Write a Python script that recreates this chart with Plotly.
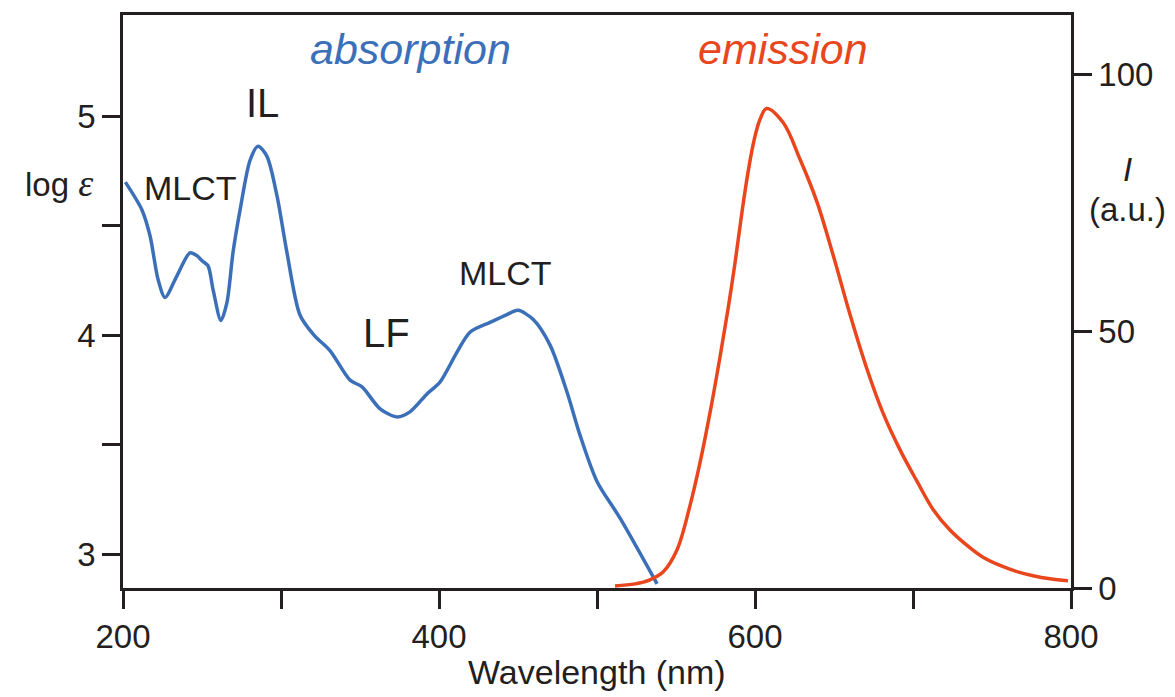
import plotly.graph_objects as go

# ---- data ----
abs_nm = [201.5, 212.0, 217.1, 222.2, 226.6, 234.2, 242.4, 246.8, 250.0, 253.8, 257.0,
          262.0, 265.8, 269.6, 274.1, 280.4, 285.4, 291.1, 297.5, 303.8, 312.0, 321.0,
          331.0, 343.7, 351.3, 362.7, 373.4, 381.6, 392.4, 400.6, 411.4, 419.6, 432.3,
          443.0, 450.0, 459.5, 470.3, 481.0, 489.2, 500.0, 514.6, 538.0]
abs_loge = [4.70, 4.573, 4.455, 4.255, 4.173, 4.273, 4.377, 4.364, 4.341, 4.318, 4.209,
            4.068, 4.15, 4.377, 4.573, 4.80, 4.864, 4.818, 4.636, 4.377, 4.093, 4.00,
            3.93, 3.795, 3.764, 3.664, 3.627, 3.65, 3.732, 3.786, 3.923, 4.014, 4.059,
            4.095, 4.114, 4.073, 3.955, 3.741, 3.545, 3.332, 3.164, 2.864]

em_nm = [511.4, 524.1, 533.5, 541.8, 550.6, 558.9, 565.2, 571.5, 577.8, 582.9, 587.3,
         591.8, 595.6, 599.4, 603.2, 607.3, 617.7, 628.5, 639.2, 649.4,
         660.1, 670.9, 681.0, 691.8, 702.5, 712.7, 723.4, 734.2, 744.3, 755.1, 765.8,
         776.0, 786.7, 798.1]
em_int = [0.4, 0.8, 1.6, 3.1, 7.4, 16.1, 24.4, 34.1, 44.9, 54.3, 63.2,
          73.3, 81.0, 87.2, 91.3, 93.4, 90.7, 83.5, 75.2, 64.9,
          53.3, 42.6, 34.1, 26.9, 20.8, 15.3, 11.3, 8.3, 6.0, 4.4, 3.2,
          2.4, 1.8, 1.4]

x_ticks = [200, 300, 400, 500, 600, 700, 800]
x_ticktext = ["200", "", "400", "", "600", "", "800"]
y_ticks = [3, 3.5, 4, 4.5, 5]
y_ticktext = ["3", "", "4", "", "5"]
y2_ticks = [0, 50, 100]
y2_ticktext = ["0", "50", "100"]

BLUE = "#3b70b9"
RED = "#e9461d"
INK = "#231f20"
FONT = "Liberation Sans, Arial, sans-serif"

fig = go.Figure()
fig.add_trace(go.Scatter(x=abs_nm, y=abs_loge, mode="lines",
                         line=dict(color=BLUE, width=3.5, shape="spline", smoothing=0.8),
                         yaxis="y", showlegend=False, hoverinfo="skip"))
fig.add_trace(go.Scatter(x=em_nm, y=em_int, mode="lines",
                         line=dict(color=RED, width=3.5, shape="spline", smoothing=1.0),
                         yaxis="y2", showlegend=False, hoverinfo="skip"))

axis_common = dict(showline=True, linecolor=INK, linewidth=2.5, ticks="outside",
                   ticklen=18, tickwidth=2.5, tickcolor=INK, showgrid=False,
                   zeroline=False, tickfont=dict(family=FONT, size=33, color=INK))

fig.update_layout(
    width=1175, height=697,
    margin=dict(l=123, r=104, t=12, b=109),
    paper_bgcolor="white", plot_bgcolor="white",
    xaxis=dict(range=[200, 800], tickvals=x_ticks, ticktext=x_ticktext,
               mirror=True, **axis_common),
    yaxis=dict(range=[2.845, 5.464], tickvals=y_ticks, ticktext=y_ticktext,
               **axis_common),
    yaxis2=dict(range=[0, 111.6], tickvals=y2_ticks, ticktext=y2_ticktext,
                overlaying="y", side="right", **axis_common),
)

ann = []
def label(text, x, y, size, color=INK, xref="x", yref="y", xanchor="center"):
    ann.append(dict(text=text, x=x, y=y, xref=xref, yref=yref, showarrow=False,
                    xanchor=xanchor, yanchor="middle",
                    font=dict(family=FONT, size=size, color=color)))

label("<i>absorption</i>", 382, 5.31, 43, BLUE)
label("<i>emission</i>", 617.7, 5.31, 43, RED)
label("IL", 288.6, 5.06, 40)
label("MLCT", 243, 4.675, 34)
label("LF", 366.5, 4.01, 40)
label("MLCT", 441.8, 4.285, 34)
label("Wavelength (nm)", 0.5, -0.146, 34, xref="paper", yref="paper")
label("log <span style='font-family:Liberation Serif;font-size:38px'><i>ε</i></span>",
      -0.030, 0.707, 33, xref="paper", yref="paper", xanchor="right")
label("<i>I</i>", 1.060, 0.73, 33, xref="paper", yref="paper")
label("(a.u.)", 1.060, 0.661, 33, xref="paper", yref="paper")

fig.update_layout(annotations=ann)
fig.write_html("out.html")
